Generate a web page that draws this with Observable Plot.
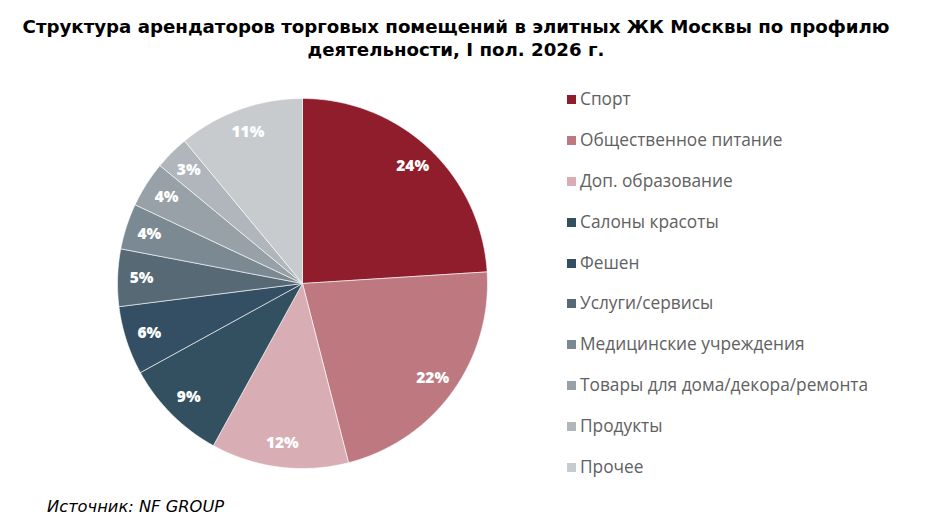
<!DOCTYPE html>
<html><head><meta charset="utf-8">
<script src="https://cdn.jsdelivr.net/npm/d3@7"></script>
<script src="https://cdn.jsdelivr.net/npm/@observablehq/plot@0.6"></script>
<style>
html,body{margin:0;padding:0;background:#fff;}
#wrap{position:relative;width:949px;height:527px;overflow:hidden;}
#title{position:absolute;left:0;top:15px;width:912px;text-align:center;font-family:"DejaVu Sans";font-weight:bold;font-size:18.2px;line-height:23px;color:#000;}
#chart{position:absolute;left:0;top:70px;}
#legend{position:absolute;left:567px;top:88px;font-family:"Open Sans";font-size:17.3px;color:#616161;}
.row{height:40.9px;display:flex;align-items:flex-start;line-height:22px;}
.sw{width:9px;height:9px;margin-top:7px;margin-right:4px;flex:none;}
#caption{position:absolute;left:47px;top:497px;font-family:"DejaVu Sans";font-style:italic;font-size:16.3px;color:#000;}
</style></head>
<body><div id="wrap">
<div id="title">Структура арендаторов торговых помещений в элитных ЖК Москвы по профилю<br>деятельности, I пол. 2026 г.</div>
<div id="chart"></div>
<div id="legend"></div>
<div id="caption">Источник: NF GROUP</div>
</div>
<script>
const categories = ["Спорт","Общественное питание","Доп. образование","Салоны красоты","Фешен","Услуги/сервисы","Медицинские учреждения","Товары для дома/декора/ремонта","Продукты","Прочее"];
const shares = [24,22,12,9,6,5,4,4,3,11];
const colors = ["#8F1D2C","#BD7880","#D8ADB4","#32505F","#344F63","#566975","#7B8993","#98A1A8","#B0B6BB","#C8CBCE"];

const total = d3.sum(shares);
const slices = [];
const labels = [];
let acc = 0;
categories.forEach((c,i)=>{
  const a0 = acc/total*2*Math.PI;
  acc += shares[i];
  const a1 = acc/total*2*Math.PI;
  const n = Math.max(2, Math.ceil((a1-a0)/0.01));
  slices.push({cat:c,x:0,y:0});
  for(let k=0;k<=n;k++){
    const a = a0+(a1-a0)*k/n;
    slices.push({cat:c,x:Math.sin(a),y:Math.cos(a)});
  }
  slices.push({cat:c,x:0,y:0});
  const m=(a0+a1)/2, r=0.87;
  labels.push({cat:c,x:r*Math.sin(m),y:r*Math.cos(m),text:shares[i]+"%"});
});

const plot = Plot.plot({
  width:540, height:425,
  marginLeft:117, marginRight:53, marginTop:28, marginBottom:27,
  x:{domain:[-1,1],axis:null},
  y:{domain:[-1,1],axis:null},
  color:{domain:categories,range:colors},
  marks:[
    Plot.line(slices,{x:"x",y:"y",z:"cat",fill:"cat",stroke:"white",strokeWidth:0.6,curve:"linear"}),
    Plot.text(labels,{x:"x",y:"y",text:"text",fill:"white",fontSize:15.5,fontWeight:800,fontFamily:"Open Sans"})
  ]
});
document.getElementById("chart").appendChild(plot);

const leg = document.getElementById("legend");
categories.forEach((c,i)=>{
  const row=document.createElement("div");row.className="row";
  const sw=document.createElement("div");sw.className="sw";sw.style.background=colors[i];
  const t=document.createElement("span");t.textContent=c;
  row.appendChild(sw);row.appendChild(t);leg.appendChild(row);
});
</script></body></html>
